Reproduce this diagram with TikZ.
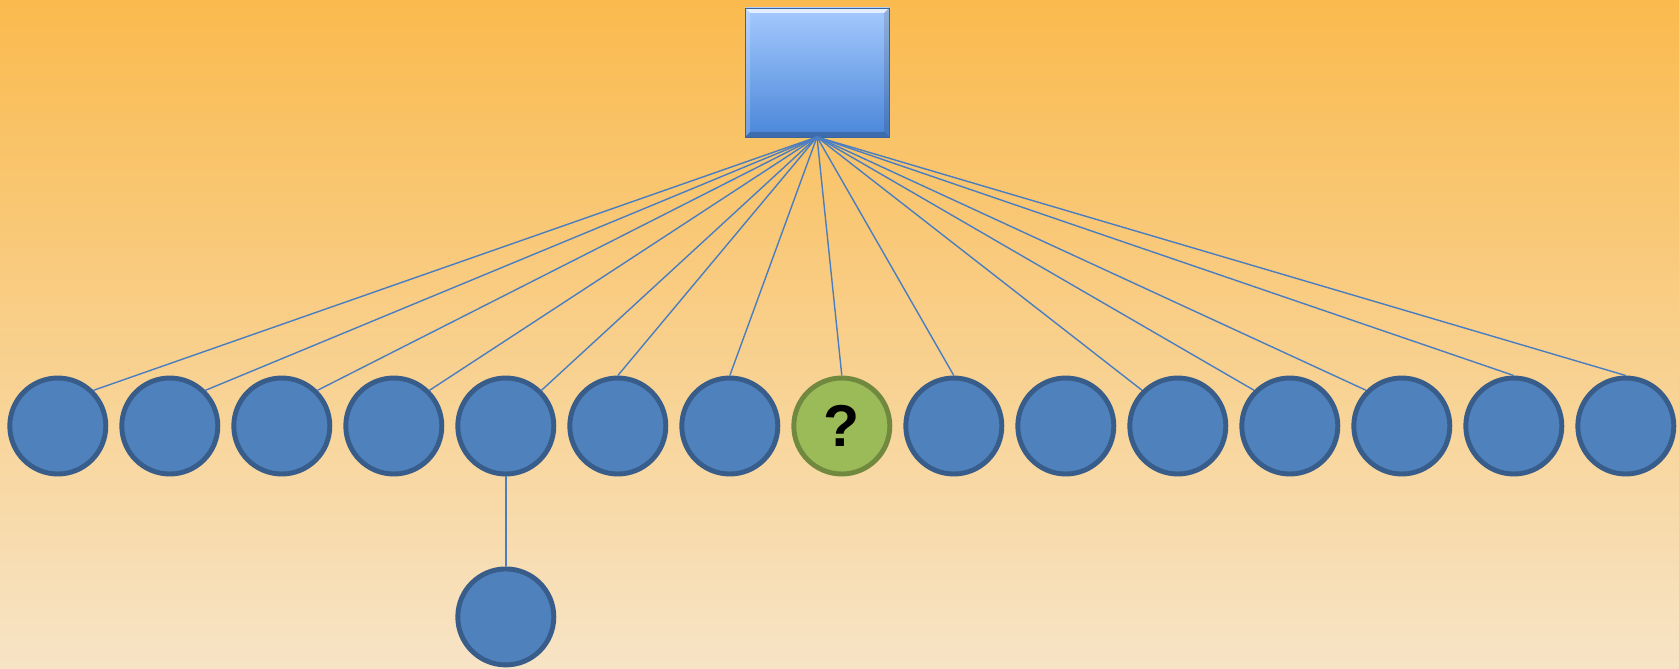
\documentclass[tikz,border=0pt]{standalone}
\usepackage{fontspec}
\setsansfont{Liberation Sans}
\usetikzlibrary{positioning}
\usetikzlibrary{calc}

\definecolor{leafblue}{RGB}{79,129,189}
\definecolor{leafedge}{RGB}{56,93,138}
\definecolor{askgreen}{RGB}{155,187,89}
\definecolor{askedge}{RGB}{113,137,63}
\definecolor{linkblue}{RGB}{74,126,192}
\definecolor{bgtop}{RGB}{250,186,78}
\definecolor{bgbottom}{RGB}{247,228,198}
\definecolor{boxtop}{RGB}{165,202,254}
\definecolor{boxbottom}{RGB}{74,134,217}

\begin{document}
\begin{tikzpicture}[
        leaf/.style = {circle, draw=leafedge, fill=leafblue, line width=3.5pt, minimum size=2.4cm, inner sep=0pt},
        ask/.style = {leaf, draw=askedge, fill=askgreen, font=\sffamily\bfseries\fontsize{42}{42}\selectfont},
        link/.style = {draw=linkblue, line width=1pt},
        rootbox/.style = {rectangle, minimum width=3.6cm, minimum height=3.225cm, inner sep=0pt, outer sep=0pt,
            top color=boxtop, bottom color=boxbottom}
    ]
    % background gradient
    \shade[top color=bgtop, bottom color=bgbottom] (0,0) rectangle (41.975,16.7);
    % root box, bevelled edges
    \node[rootbox] (root) at (20.425,14.8875) {};
    \fill[white, opacity=.7] (root.north west) -- (root.north east) -- ($(root.north east)+(-0.125,-0.125)$) -- ($(root.north west)+(0.125,-0.125)$) -- cycle;
    \fill[white, opacity=.2] (root.north west) -- ($(root.north west)+(0.125,-0.125)$) -- ($(root.south west)+(0.125,0.125)$) -- (root.south west) -- cycle;
    \fill[black, opacity=.12] (root.north east) -- (root.south east) -- ($(root.south east)+(-0.125,0.125)$) -- ($(root.north east)+(-0.125,-0.125)$) -- cycle;
    \fill[black, opacity=.2] (root.south west) -- (root.south east) -- ($(root.south east)+(-0.125,0.125)$) -- ($(root.south west)+(0.125,0.125)$) -- cycle;
    \draw[linkblue!80!black, line width=0.6pt] (root.north west) rectangle (root.south east);
    % row of leaves
    \foreach \i in {1,...,7,9,10,...,15} {
        \node[leaf] (c\i) at ({1.445+2.8*(\i-1)},6.05) {};
    }
    \node[ask] (c8) at ({1.445+2.8*7},6.05) {?};
    \node[leaf, below=2.25cm of c5] (c5sub) {};
    % links
    \foreach \i in {1,...,5}
        \draw[link] (root.south) -- (c\i.north east);
    \foreach \i in {6,...,9,14,15}
        \draw[link] (root.south) -- (c\i.north);
    \foreach \i in {11,12,13}
        \draw[link] (root.south) -- (c\i.north west);
    \draw[link] (c5) -- (c5sub);
\end{tikzpicture}
\end{document}
